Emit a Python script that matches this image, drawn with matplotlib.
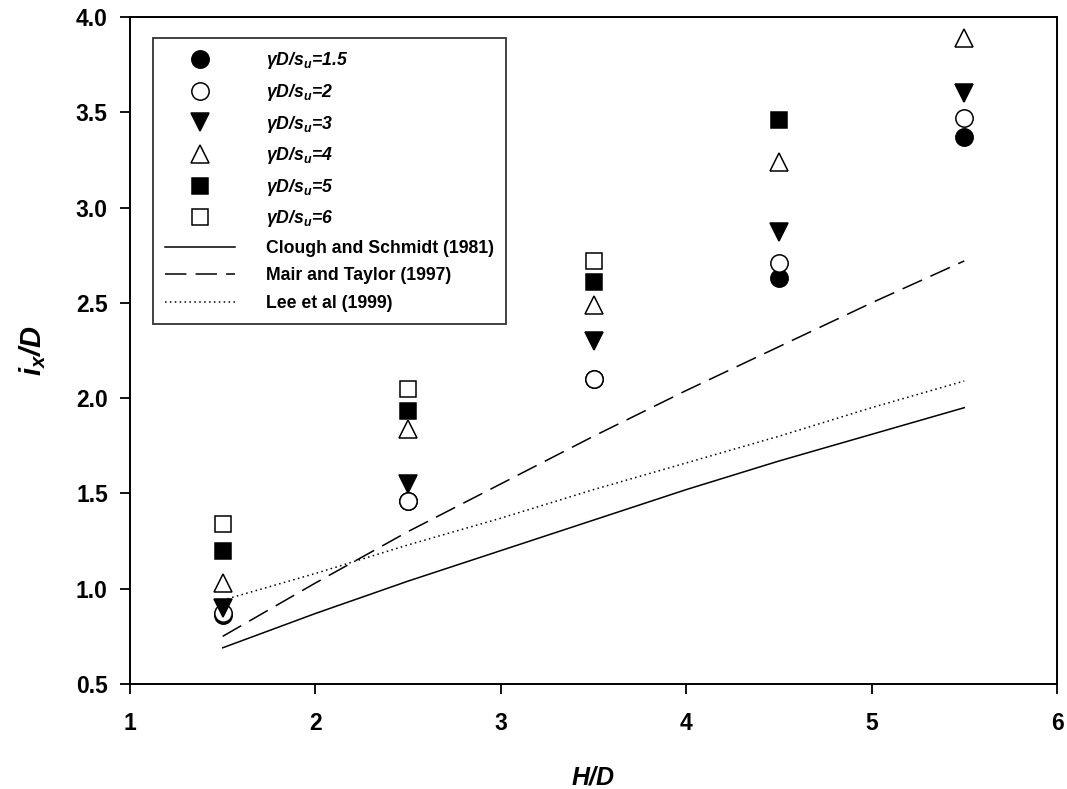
import matplotlib
matplotlib.use("Agg")
import matplotlib.pyplot as plt

plt.rcParams['font.family'] = ['Liberation Sans', 'DejaVu Sans']
plt.rcParams['font.weight'] = 'bold'
plt.rcParams['mathtext.fontset'] = 'custom'
plt.rcParams['mathtext.it'] = 'Liberation Sans:italic:bold'
plt.rcParams['mathtext.rm'] = 'Liberation Sans:italic:bold'
plt.rcParams['mathtext.bf'] = 'Liberation Sans:italic:bold'

# Measured trough width ratios i_x/D at each depth ratio H/D
hd_points = [1.5, 2.5, 3.5, 4.5, 5.5]
ratio_15 = [0.86, 1.46, 2.10, 2.63, 3.37]
ratio_2 = [0.87, 1.46, 2.10, 2.71, 3.47]
ratio_3 = [0.90, 1.55, 2.30, 2.87, 3.60]
ratio_4 = [1.03, 1.84, 2.49, 3.24, 3.89]
ratio_5 = [1.20, 1.93, 2.61, 3.46]
ratio_6 = [1.34, 2.05, 2.72]

# Empirical relations
hd_curve = [1.5, 2.0, 2.5, 3.0, 3.5, 4.0, 4.5, 5.0, 5.5]
clough_schmidt = [0.69, 0.87, 1.04, 1.20, 1.36, 1.52, 1.67, 1.81, 1.95]
mair_taylor = [0.75, 1.03, 1.30, 1.55, 1.80, 2.04, 2.27, 2.50, 2.72]
lee_et_al = [0.94, 1.08, 1.23, 1.37, 1.52, 1.66, 1.80, 1.95, 2.09]

labels = [r'$\gamma D/s_u$=1.5', r'$\gamma D/s_u$=2', r'$\gamma D/s_u$=3',
          r'$\gamma D/s_u$=4', r'$\gamma D/s_u$=5', r'$\gamma D/s_u$=6',
          'Clough and Schmidt (1981)', 'Mair and Taylor (1997)', 'Lee et al (1999)']

fig = plt.figure(figsize=(10.67, 7.89), dpi=100)
ax = fig.add_axes([130 / 1067, 1 - 684 / 789, (1057 - 130) / 1067, (684 - 17) / 789])

mk = dict(linestyle='none', markeredgecolor='black', markeredgewidth=1.1)
series = [
    (ratio_15, 'o', 'black', 12.5),
    (ratio_2, 'o', 'white', 12.5),
    (ratio_3, 'v', 'black', 13),
    (ratio_4, '^', 'white', 13),
    (ratio_5, 's', 'black', 11),
    (ratio_6, 's', 'white', 11),
]
handles = []
for vals, m, fc, ms in series:
    h, = ax.plot(hd_points[:len(vals)], vals, marker=m, markerfacecolor=fc,
                 markersize=ms, **mk)
    handles.append(h)

h1, = ax.plot(hd_curve, clough_schmidt, color='black', lw=1.1, ls='-')
h2, = ax.plot(hd_curve, mair_taylor, color='black', lw=1.1, ls=(0, (14, 6)))
h3, = ax.plot(hd_curve, lee_et_al, color='black', lw=1.1, ls=(0, (1, 2.2)))
handles += [h1, h2, h3]

ax.set_xlim(1, 6)
ax.set_ylim(0.5, 4.0)
ax.set_xticks([1, 2, 3, 4, 5, 6])
ax.set_yticks([0.5, 1.0, 1.5, 2.0, 2.5, 3.0, 3.5, 4.0])
ax.set_yticklabels(['0.5', '1.0', '1.5', '2.0', '2.5', '3.0', '3.5', '4.0'])
ax.tick_params(axis='both', direction='out', length=7, width=1.3,
               labelsize=16.5, top=False, right=False)
ax.tick_params(axis='x', pad=13)
ax.tick_params(axis='y', pad=9)
for s in ax.spines.values():
    s.set_linewidth(1.4)

ax.set_xlabel('H/D', fontsize=18, fontstyle='italic', fontweight='bold', labelpad=22)
ax.set_ylabel(r'$i_x$/D', fontsize=21, fontstyle='italic', fontweight='bold', labelpad=20)

leg = ax.legend(handles, labels, loc='upper left',
                bbox_to_anchor=((153 - 130) / 927, (684 - 38) / 667),
                borderaxespad=0, fancybox=False, frameon=True,
                prop={'size': 12.7, 'weight': 'bold'},
                handlelength=3.95, handletextpad=1.75, labelspacing=0.6,
                borderpad=0.7, numpoints=1)
leg.get_frame().set_edgecolor('black')
leg.get_frame().set_linewidth(1.3)
for t in leg.get_texts()[:6]:
    t.set_fontstyle('italic')

fig.savefig('out.png', dpi=100)
